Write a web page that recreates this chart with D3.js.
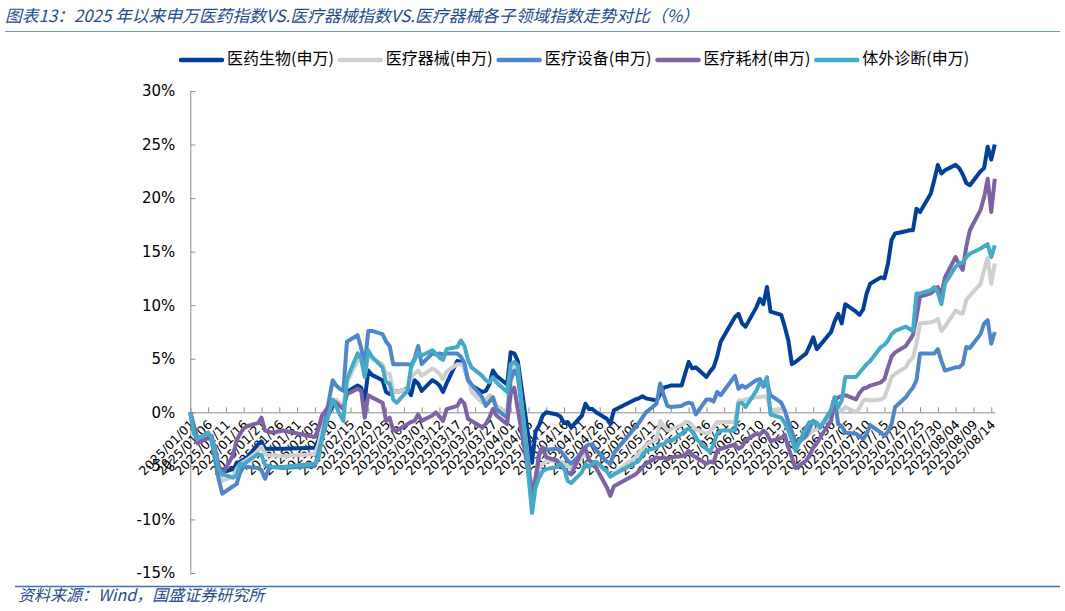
<!DOCTYPE html>
<html>
<head>
<meta charset="utf-8">
<script src="https://cdn.jsdelivr.net/npm/d3@7"></script>
<style>
  body { margin: 0; background: #fff; }
  svg text { font-family: "DejaVu Sans", sans-serif; }
  .cjk { font-family: "Noto Sans CJK SC", sans-serif; }
</style>
</head>
<body>
<svg id="chart" width="1065" height="611"></svg>
<script>
// trading days (2025), first point is the base date
const dates = [
  "01-01","01-02","01-03","01-06","01-07","01-08","01-09","01-10","01-13","01-14","01-15","01-16","01-17","01-20","01-21","01-22","01-23","01-24","01-27",
  "02-05","02-06","02-07","02-10","02-11","02-12","02-13","02-14","02-17","02-18","02-19","02-20","02-21","02-24","02-25","02-26","02-27","02-28",
  "03-03","03-04","03-05","03-06","03-07","03-10","03-11","03-12","03-13","03-14","03-17","03-18","03-19","03-20","03-21","03-24","03-25","03-26","03-27","03-28","03-31",
  "04-01","04-02","04-03","04-07","04-08","04-09","04-10","04-11","04-14","04-15","04-16","04-17","04-18","04-21","04-22","04-23","04-24","04-25","04-28","04-29","04-30",
  "05-06","05-07","05-08","05-09","05-12","05-13","05-14","05-15","05-16","05-19","05-20","05-21","05-22","05-23","05-26","05-27","05-28","05-29","05-30",
  "06-03","06-04","06-05","06-06","06-09","06-10","06-11","06-12","06-13","06-16","06-17","06-18","06-19","06-20","06-23","06-24","06-25","06-26","06-27","06-30",
  "07-01","07-02","07-03","07-04","07-07","07-08","07-09","07-10","07-11","07-14","07-15","07-16","07-17","07-18","07-21","07-22","07-23","07-24","07-25","07-28","07-29","07-30","07-31",
  "08-01","08-04","08-05","08-06","08-07","08-08","08-11","08-12","08-13","08-14","08-15"
];

// 医药生物(申万)
const bio = [
  0,-1.7,-2.7,-2.3,-2.7,-3.9,-5.1,-5.6,-5.3,-4.8,-4.6,-4.4,-4.2,-3.0,-2.7,-3.4,-3.4,-3.4,-3.4,
  -3.3,-2.6,-1.4,0.6,0.9,0.8,0.5,1.9,2.5,2.3,1.1,3.9,3.5,3.0,1.9,1.7,2.0,1.9,
  2.2,1.6,3.0,2.7,2.0,3.0,2.8,2.5,1.9,2.7,4.8,4.7,4.2,3.1,2.5,1.9,2.0,2.6,3.9,3.4,2.6,
  5.6,5.5,4.8,-4.7,-1.8,-1.2,-0.3,0.0,-0.2,-0.4,-1.0,-0.9,-1.4,-0.3,0.8,0.3,0.3,0.0,-0.6,-1.1,0.2,
  1.2,1.3,1.5,1.3,1.1,1.7,2.3,2.4,2.5,2.5,3.6,4.7,4.1,4.2,3.3,3.8,4.2,5.2,6.6,
  8.9,9.2,8.3,8.0,9.8,10.6,10.1,11.7,9.4,9.1,8.0,6.7,4.5,4.7,5.5,6.2,7.0,5.9,6.3,7.5,
  8.5,9.2,8.3,10.1,9.4,9.1,9.6,11.1,12.0,12.6,12.5,13.9,16.1,16.7,16.9,17.0,17.0,19.0,18.7,20.4,21.7,23.1,22.3,
  22.6,23.1,22.8,22.2,21.4,21.2,22.5,22.8,24.8,23.6,25.0
];

// 医疗器械(申万)
const device = [
  0,-1.5,-2.5,-2.0,-2.8,-4.0,-5.5,-6.4,-6.0,-5.3,-4.8,-4.6,-4.4,-3.6,-3.2,-3.9,-4.0,-4.0,-4.1,
  -3.9,-3.0,-1.5,1.0,1.2,0.9,0.5,2.8,4.8,5.1,3.4,5.4,5.0,4.5,3.6,3.6,2.0,1.9,
  2.2,3.3,3.6,3.9,3.4,4.1,3.9,3.6,3.1,3.8,4.5,4.5,4.2,3.2,1.9,0.9,1.1,1.6,1.4,0.6,0.0,
  4.2,4.4,3.9,-7.6,-6.1,-5.2,-4.8,-4.6,-4.5,-4.6,-4.8,-5.0,-5.3,-4.2,-3.9,-4.3,-4.8,-4.8,-5.5,-6.0,-5.7,
  -4.2,-3.8,-3.4,-3.0,-2.5,-0.8,-1.3,-1.7,-1.6,-1.2,-0.9,-0.9,-1.2,-1.6,-2.0,-1.8,-1.4,-0.9,-0.9,
  -0.9,1.1,1.1,1.2,1.4,1.4,1.5,1.4,0.2,0.3,0.0,-0.8,-2.2,-3.0,-2.3,-2.0,-1.7,-1.6,-1.2,-0.5,
  0.2,0.5,0.1,0.5,0.0,0.4,1.1,1.2,1.1,1.2,1.4,2.3,3.3,3.6,4.2,4.8,5.1,6.4,8.3,8.4,8.5,8.7,7.6,
  8.0,9.5,9.3,9.2,10.5,10.9,12.0,13.3,14.4,12.0,13.9
];

// 医疗设备(申万)
const equip = [
  0,-1.2,-2.5,-1.9,-2.6,-4.5,-6.3,-7.6,-6.9,-6.7,-5.6,-5.1,-5.1,-5.2,-5.4,-6.2,-5.3,-5.1,-5.2,
  -5.0,-3.8,-2.4,3.0,2.5,2.2,2.0,6.6,7.2,6.0,4.4,7.6,7.6,7.3,6.6,6.2,4.5,4.5,
  4.5,4.4,5.0,6.2,4.5,5.5,5.4,5.5,5.4,5.5,5.5,5.2,4.6,3.0,2.6,1.4,0.6,1.0,1.4,0.3,-0.5,
  3.0,3.9,3.4,-7.7,-6.1,-3.8,-3.3,-3.5,-3.4,-3.6,-4.0,-4.5,-4.8,-3.8,-3.2,-3.0,-3.0,-3.5,-4.6,-4.8,-3.8,
  -1.4,-1.0,-0.5,0.0,0.8,2.7,1.6,0.6,0.5,0.6,0.8,0.9,0.8,-0.2,1.2,1.2,1.0,1.9,1.6,
  3.4,2.2,2.5,2.3,3.0,3.1,2.4,2.8,1.6,0.9,0.2,-0.9,-1.8,-3.0,-2.2,-1.5,-0.8,-1.0,-1.4,0.2,
  1.4,-1.1,-1.3,-1.9,-2.0,-2.2,-2.5,-2.0,-1.2,-1.9,-2.2,-1.8,-1.1,0.5,1.4,1.9,2.3,3.0,5.5,5.5,5.5,5.9,4.8,
  3.9,4.2,4.2,4.5,6.1,6.0,7.3,8.3,8.6,6.4,7.5
];

// 医疗耗材(申万)
const consum = [
  0,-1.5,-2.9,-2.4,-2.2,-3.5,-5.0,-5.8,-4.0,-2.6,-2.0,-1.5,-1.3,-1.0,-0.5,-1.7,-1.8,-1.9,-1.7,
  -2.3,-1.5,-0.3,1.1,0.9,0.6,0.3,1.7,2.2,2.0,-0.5,1.6,1.4,0.9,-0.8,-0.5,-1.7,-1.7,
  -1.1,-0.9,-0.8,-0.2,-0.8,-0.3,0.0,-0.4,-0.8,0.3,0.6,1.2,0.8,-0.6,-0.8,-1.4,-1.1,-0.5,0.3,-0.3,-1.1,
  1.7,2.3,0.3,-7.6,-6.4,-4.0,-3.3,-4.2,-4.5,-5.0,-5.3,-5.6,-5.8,-3.6,-3.3,-4.5,-4.7,-5.2,-7.0,-7.8,-6.9,
  -5.8,-5.5,-5.1,-4.8,-4.2,-4.3,-4.2,-4.4,-4.2,-4.1,-4.0,-3.6,-4.0,-4.2,-4.8,-4.6,-4.7,-3.6,-3.4,
  -3.0,-3.4,-3.2,-2.6,-2.0,-2.1,-1.7,-2.0,-2.7,-2.4,-2.1,-3.3,-4.2,-5.2,-4.5,-4.0,-3.3,-2.9,-2.3,-0.8,
  1.1,1.4,1.5,1.6,1.2,1.8,2.2,2.3,2.5,2.8,3.1,4.2,5.2,5.6,6.2,6.7,7.2,8.9,10.8,11.1,11.4,11.7,11.0,
  12.6,14.5,13.8,13.3,15.5,17.0,18.9,20.1,21.8,18.7,21.8
];

// 体外诊断(申万)
const ivd = [
  0,-2.0,-2.5,-1.9,-2.4,-3.8,-5.3,-5.8,-6.1,-5.9,-4.8,-4.9,-4.6,-3.9,-4.0,-4.9,-5.0,-5.1,-5.1,
  -4.8,-4.3,-2.5,1.2,0.5,-0.2,-0.8,3.1,5.5,5.0,3.3,5.8,5.2,4.2,2.8,2.7,1.2,0.9,
  2.0,4.2,4.9,5.6,5.3,5.8,5.5,5.1,4.9,5.9,6.1,6.7,6.2,4.9,4.2,3.4,3.0,2.8,3.3,2.8,1.9,
  4.5,4.7,4.4,-9.4,-7.0,-6.1,-5.5,-5.3,-5.1,-4.8,-5.2,-6.4,-6.6,-5.6,-4.8,-5.1,-4.8,-4.6,-5.5,-6.0,-5.8,
  -4.7,-4.5,-4.0,-3.6,-3.3,-3.0,-3.0,-2.6,-2.7,-2.0,-1.7,-1.5,-1.8,-2.4,-3.4,-3.7,-3.0,-2.0,-1.7,
  -1.7,0.8,0.9,0.5,2.0,2.8,2.6,3.3,-0.2,-0.5,-1.0,-1.7,-2.6,-3.6,-1.4,-0.9,-1.0,-1.1,-1.4,0.2,
  1.4,0.5,1.1,3.3,3.3,3.7,4.1,4.5,4.8,6.1,6.3,6.7,7.3,7.6,8.0,7.8,7.6,11.1,11.1,11.4,11.7,11.2,10.1,
  12.0,13.6,13.9,14.0,14.5,14.8,15.3,15.5,15.7,14.5,15.6
];

const seriesNames = ["医药生物(申万)", "医疗器械(申万)", "医疗设备(申万)", "医疗耗材(申万)", "体外诊断(申万)"];
const seriesColors = ["#033f98", "#cfcfcf", "#4f86c9", "#7d62a6", "#45aac8"];
const yTicks = [-15, -10, -5, 0, 5, 10, 15, 20, 25, 30];

const titleText = "图表13：2025 年以来申万医药指数VS.医疗器械指数VS.医疗器械各子领域指数走势对比（%）";
const sourceText = "资料来源：Wind，国盛证券研究所";

const svg = d3.select("#chart");
const parse = d3.utcParse("%Y-%m-%d");
const day0 = parse("2025-01-01");
const xDates = dates.map(d => parse("2025-" + d));
const allSeries = [bio, device, equip, consum, ivd];

const x = d3.scaleUtc()
    .domain([day0, parse("2025-08-15")])
    .range([190.3, 994.8]);
const y = d3.scaleLinear()
    .domain([-15, 30])
    .range([573, 91]);

// header and footer
svg.append("text")
    .attr("class", "cjk")
    .attr("x", 5).attr("y", 17)
    .attr("dominant-baseline", "middle")
    .attr("font-size", 16.8)
    .attr("font-style", "italic")
    .attr("fill", "#1f4a93")
    .text(titleText);

svg.append("line")
    .attr("x1", 5).attr("x2", 1060).attr("y1", 31.5).attr("y2", 31.5)
    .attr("stroke", "#6f93c8").attr("stroke-width", 1);

svg.append("line")
    .attr("x1", 15).attr("x2", 1060).attr("y1", 586.5).attr("y2", 586.5)
    .attr("stroke", "#3f6fb5").attr("stroke-width", 1.5);

svg.append("text")
    .attr("class", "cjk")
    .attr("x", 18).attr("y", 597)
    .attr("dominant-baseline", "middle")
    .attr("font-size", 16)
    .attr("font-style", "italic")
    .attr("fill", "#1f4a93")
    .text(sourceText);

// y axis
let yAxis = svg.append("g")
    .attr("transform", `translate(${x.range()[0]},0)`)
    .call(d3.axisLeft(y).tickValues(yTicks).tickFormat(d => d + "%").tickSize(-5).tickSizeOuter(0).tickPadding(15));
yAxis.select(".domain").attr("stroke", "#8c8c8c");
yAxis.selectAll(".tick line").attr("stroke", "#8c8c8c");
yAxis.selectAll("text").attr("font-size", 15).attr("fill", "#000")
    .style("font-family", "'DejaVu Sans', sans-serif");

// x axis on the 0% line, label every 5 days
const xTicks = d3.range(0, 226, 5).map(k => d3.utcDay.offset(day0, k));
let xAxis = svg.append("g")
    .attr("transform", `translate(0,${y(0)})`)
    .call(d3.axisBottom(x).tickValues(xTicks).tickFormat(d3.utcFormat("%Y/%m/%d")).tickSize(-5).tickSizeOuter(0));
xAxis.select(".domain").attr("stroke", "#8c8c8c");
xAxis.selectAll(".tick line").attr("stroke", "#8c8c8c");
xAxis.selectAll("text")
    .attr("font-size", 12.5)
    .attr("fill", "#000")
    .style("font-family", "'DejaVu Sans', sans-serif")
    .attr("text-anchor", "end")
    .attr("x", -6).attr("y", 8).attr("dy", "0.35em")
    .attr("transform", "rotate(-45)");

// lines
const line = d3.line()
    .x((d, i) => x(xDates[i]))
    .y(d => y(d));

svg.append("g").selectAll("path")
    .data(allSeries)
    .join("path")
    .attr("d", d => line(d))
    .attr("fill", "none")
    .attr("stroke", (d, i) => seriesColors[i])
    .attr("stroke-width", 4)
    .attr("stroke-linejoin", "round");

// legend
let lx = 181;
const legend = svg.append("g");
seriesNames.forEach((name, i) => {
    legend.append("line")
        .attr("x1", lx).attr("x2", lx + 41)
        .attr("y1", 60).attr("y2", 60)
        .attr("stroke", seriesColors[i])
        .attr("stroke-width", 4.5)
        .attr("stroke-linecap", "round");
    let t = legend.append("text")
        .attr("class", "cjk")
        .attr("x", lx + 46).attr("y", 60)
        .attr("dominant-baseline", "middle")
        .attr("font-size", 16)
        .attr("fill", "#000")
        .text(name);
    lx += 46 + t.node().getComputedTextLength() + 6;
});
</script>
</body>
</html>
